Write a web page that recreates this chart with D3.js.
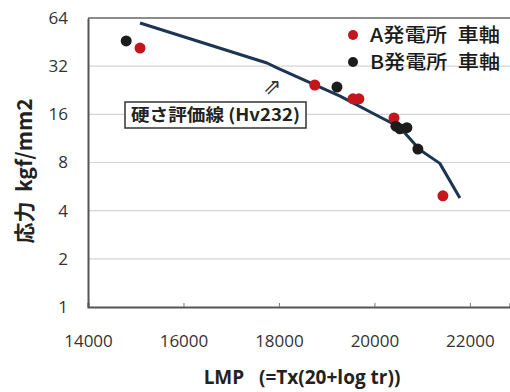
<!DOCTYPE html>
<html>
<head>
<meta charset="utf-8">
<script src="https://cdn.jsdelivr.net/npm/d3@7"></script>
<style>
  body { margin: 0; background: #fff; }
  svg { display: block; }
</style>
</head>
<body>
<div id="chart"></div>
<script>
// hardness evaluation line (Hv232)
var lineLmp    = [15090, 17750, 17960, 19280, 20115, 20530, 20950, 21370, 21790];
var lineStress = [59.6, 33.5, 31.2, 20.8, 15.4, 13.3, 9.6, 7.9, 4.8];

// A plant axles
var aLmp    = [15090, 18750, 19550, 19675, 20410, 21435];
var aStress = [41.5, 24.4, 20.0, 20.0, 15.2, 4.95];

// B plant axles
var bLmp    = [14800, 19215, 20450, 20535, 20680, 20910];
var bStress = [46.0, 23.7, 13.5, 13.0, 13.2, 9.7];

var xTicks = [14000, 16000, 18000, 20000, 22000];
var yTicks = [1, 2, 4, 8, 16, 32, 64];

var seriesNames = ["A発電所\u2002車軸", "B発電所\u2002車軸"];
var seriesColors = ["#c4161c", "#1c1c1c"];

var W = 510, H = 392;
var margin = {top: 18, right: 0, bottom: 85, left: 88},
    width = W - margin.left - margin.right,
    height = H - margin.top - margin.bottom;

var x = d3.scaleLinear().domain([14000, 22840]).range([0, width]);
var y = d3.scaleLog().base(2).domain([1, 64]).range([height, 0]);

var svg = d3.select("#chart").append("svg")
    .attr("width", W)
    .attr("height", H);

var g = svg.append("g")
    .attr("transform", "translate(" + margin.left + "," + margin.top + ")");

// gridlines
g.append("g").selectAll("line")
    .data(yTicks.filter(function(d) { return d > 1 && d < 64; }))
    .enter().append("line")
    .attr("x1", 0).attr("x2", width)
    .attr("y1", function(d) { return y(d); })
    .attr("y2", function(d) { return y(d); })
    .attr("stroke", "#d4d4d4")
    .attr("stroke-width", 1.2);

// top border
g.append("line")
    .attr("x1", 0).attr("x2", width)
    .attr("y1", 0).attr("y2", 0)
    .attr("stroke", "#666").attr("stroke-width", 1.6);

// axes
var xAxis = g.append("g")
    .attr("transform", "translate(0," + height + ")")
    .call(d3.axisBottom(x).tickValues(xTicks).tickSize(-4).tickPadding(28).tickFormat(d3.format("d")));
var yAxis = g.append("g")
    .call(d3.axisLeft(y).tickValues(yTicks).tickSize(0).tickPadding(20).tickFormat(d3.format("d")));

[xAxis, yAxis].forEach(function(a) {
    a.select(".domain").attr("stroke", "#555").attr("stroke-width", 2);
    a.selectAll(".tick line").attr("stroke", "#777");
    a.selectAll("text")
        .attr("fill", "#333")
        .style("font-family", "'Open Sans', sans-serif")
        .style("font-size", "17px");
});
xAxis.selectAll(".tick").filter(function(d) { return d == 14000; }).select("line").remove();

// evaluation line
var line = d3.line()
    .x(function(d) { return x(d[0]); })
    .y(function(d) { return y(d[1]); });

g.append("path")
    .datum(d3.zip(lineLmp, lineStress))
    .attr("d", line)
    .attr("fill", "none")
    .attr("stroke", "#1b3553")
    .attr("stroke-width", 3)
    .attr("stroke-linejoin", "round");

// points
function dots(xs, ys, color) {
    g.append("g").selectAll("circle")
        .data(d3.zip(xs, ys))
        .enter().append("circle")
        .attr("cx", function(d) { return x(d[0]); })
        .attr("cy", function(d) { return y(d[1]); })
        .attr("r", 5.5)
        .attr("fill", color);
}
dots(aLmp, aStress, seriesColors[0]);
dots(bLmp, bStress, seriesColors[1]);

// legend
var legend = svg.append("g");
seriesNames.forEach(function(name, i) {
    var ly = 35 + i * 27;
    legend.append("circle")
        .attr("cx", 353).attr("cy", ly).attr("r", 5)
        .attr("fill", seriesColors[i]);
    legend.append("text")
        .attr("x", 370).attr("y", ly)
        .attr("dy", "0.36em")
        .attr("textLength", 130)
        .attr("lengthAdjust", "spacingAndGlyphs")
        .style("font-family", "'Noto Sans CJK JP', sans-serif")
        .style("font-size", "19px")
        .style("font-weight", "500")
        .attr("fill", "#1a1a1a")
        .text(name);
});

// annotation box
var note = svg.append("g");
note.append("rect")
    .attr("x", 125).attr("y", 102)
    .attr("width", 181).attr("height", 26)
    .attr("fill", "#fff")
    .attr("stroke", "#333")
    .attr("stroke-width", 1.5);
note.append("text")
    .attr("x", 131).attr("y", 115)
    .attr("dy", "0.36em")
    .attr("textLength", 169)
    .attr("lengthAdjust", "spacingAndGlyphs")
    .style("font-family", "'Noto Sans CJK JP', sans-serif")
    .style("font-size", "17px")
    .style("font-weight", "bold")
    .attr("fill", "#222")
    .text("硬さ評価線 (Hv232)");
note.append("text")
    .attr("x", 272).attr("y", 86)
    .attr("text-anchor", "middle")
    .attr("dy", "0.36em")
    .style("font-family", "'DejaVu Sans', sans-serif")
    .style("font-size", "22px")
    .attr("fill", "#333")
    .text("\u21D7");

// axis titles
svg.append("text")
    .attr("x", 302).attr("y", 384)
    .attr("text-anchor", "middle")
    .style("font-family", "'Open Sans', 'Noto Sans CJK JP', sans-serif")
    .style("font-size", "19px")
    .style("font-weight", "bold")
    .attr("fill", "#222")
    .text("LMP\u00a0\u00a0\u00a0(=Tx(20+log tr))");

svg.append("text")
    .attr("transform", "translate(24,171) rotate(-90)")
    .attr("text-anchor", "middle")
    .attr("dy", "0.36em")
    .style("font-family", "'Noto Sans CJK JP', sans-serif")
    .style("font-size", "21px")
    .style("font-weight", "bold")
    .attr("fill", "#222")
    .text("応力\u00a0\u00a0kgf/mm2");
</script>
</body>
</html>
